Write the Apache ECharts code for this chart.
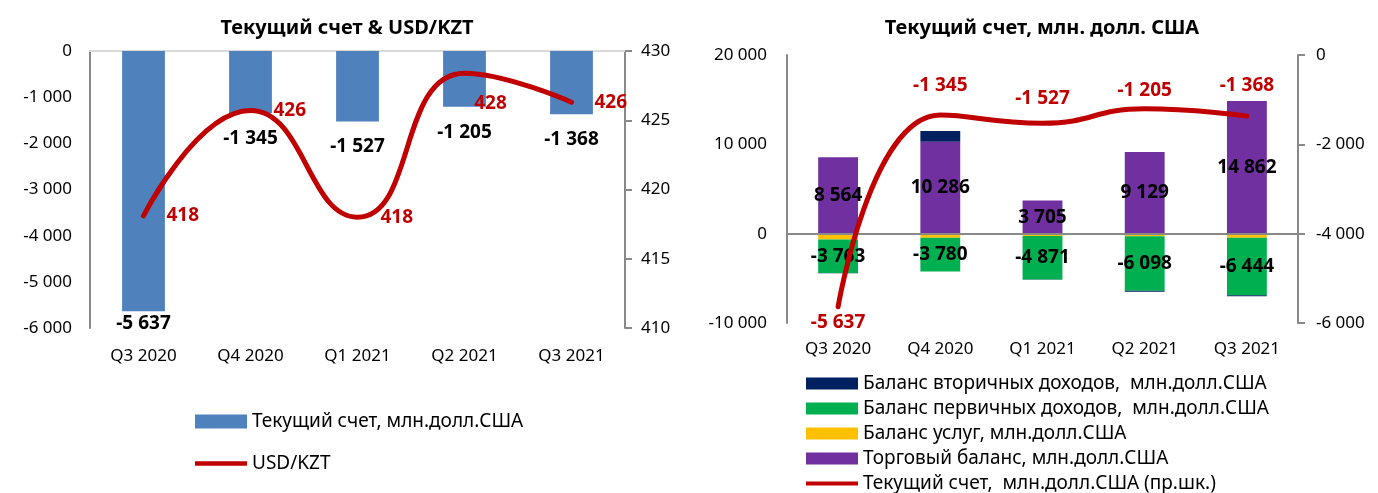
<!DOCTYPE html>
<html>
<head>
<meta charset="utf-8">
<script src="https://cdn.jsdelivr.net/npm/echarts@6/dist/echarts.min.js"></script>
<style>
  html, body { margin: 0; padding: 0; background: #fff; }
  #chart { width: 1378px; height: 493px; }
</style>
</head>
<body>
<div id="chart"></div>
<script>
// данные
var quarters = ['Q3 2020', 'Q4 2020', 'Q1 2021', 'Q2 2021', 'Q3 2021'];
var currentAccount = [-5637, -1345, -1527, -1205, -1368];
var usdKzt = [418.1, 425.7, 418.0, 428.4, 426.3];
var tradeBalance = [8564, 10286, 3705, 9129, 14862];
var servicesBalance = [-650, -450, -250, -300, -450];
var primaryIncome = [-3763, -3780, -4871, -6098, -6444];
var secondaryIncome = [-30, 1200, -30, -100, -100];

var FONT = '"Noto Sans", sans-serif';
var GRAY = '#898989';
var RED = '#C00000';
// иконка легенды для линии: толстая полоса посередине
var LINE_ICON = 'path://M0,0L0.01,0L0,0.01Z M0,5L52,5L52,10L0,10Z M0,15L0.01,15L0,14.99Z';

function fmt(v) {
  var s = Math.abs(Math.round(v)).toString().replace(/\B(?=(\d{3})+(?!\d))/g, ' ');
  return (v < 0 ? '-' : '') + s;
}

var labelBold = { fontFamily: FONT, fontSize: 19, fontWeight: 'bold', color: '#000' };
var axisText = { fontFamily: FONT, fontSize: 17, color: '#000' };
var legendText = { fontFamily: FONT, fontSize: 19, color: '#000', lineHeight: 19 };

// подписи столбцов левого графика
var caBars = currentAccount.map(function (v, i) {
  return { value: v, label: { distance: i === 0 ? 3 : 16 } };
});
// подписи курса: справа, у Q2 2021 - под линией
var kztData = usdKzt.map(function (v, i) {
  if (i === 3) return { value: v, label: { position: 'bottom', offset: [26, -2] } };
  return v;
});
// подписи текущего счёта (правый график): сверху, первая - снизу
var caData = currentAccount.map(function (v, i) {
  var d = { 1: 19, 2: 14, 3: 8, 4: 20 };
  if (i === 0) return { value: v, label: { position: 'bottom', distance: 5 } };
  return { value: v, label: { distance: d[i] } };
});

var chart = echarts.init(document.getElementById('chart'), null, { renderer: 'canvas' });

chart.setOption({
  animation: false,
  backgroundColor: '#fff',
  textStyle: { fontFamily: FONT },
  title: [
    { text: 'Текущий счет & USD/KZT', left: 342, top: 13, textAlign: 'center',
      textStyle: { fontFamily: FONT, fontSize: 20, fontWeight: 'bold', color: '#000' } },
    { text: 'Текущий счет, млн. долл. США', left: 1037, top: 13, textAlign: 'center',
      textStyle: { fontFamily: FONT, fontSize: 20, fontWeight: 'bold', color: '#000' } }
  ],
  legend: [
    {
      data: [{ name: 'Текущий счет, млн.долл.США', icon: 'rect' },
             { name: 'USD/KZT', icon: LINE_ICON }],
      orient: 'vertical', left: 195, top: 412, padding: 0,
      itemWidth: 52, itemHeight: 14, itemGap: 23, symbolKeepAspect: false,
      textStyle: legendText
    },
    {
      data: [{ name: 'Баланс вторичных доходов,  млн.долл.США', icon: 'rect' },
             { name: 'Баланс первичных доходов,  млн.долл.США', icon: 'rect' },
             { name: 'Баланс услуг, млн.долл.США', icon: 'rect' },
             { name: 'Торговый баланс, млн.долл.США', icon: 'rect' },
             { name: 'Текущий счет,  млн.долл.США (пр.шк.)', icon: LINE_ICON }],
      orient: 'vertical', left: 806, top: 374, padding: 0,
      itemWidth: 52, itemHeight: 12, itemGap: 6, symbolKeepAspect: false,
      textStyle: legendText
    }
  ],
  grid: [
    { left: 90, right: 753, top: 51, bottom: 165 },
    { left: 787, right: 80, top: 55, bottom: 170 }
  ],
  xAxis: [
    { type: 'category', gridIndex: 0, data: quarters, position: 'bottom',
      axisLine: { show: false, onZero: false }, axisTick: { show: false },
      axisLabel: Object.assign({ margin: 20 }, axisText) },
    { type: 'category', gridIndex: 0, data: quarters, position: 'top',
      axisLine: { show: true, onZero: false, lineStyle: { color: '#D9D9D9', width: 2 } },
      axisTick: { show: false }, axisLabel: { show: false } },
    { type: 'category', gridIndex: 1, data: quarters, position: 'bottom',
      axisLine: { show: false, onZero: false }, axisTick: { show: false },
      axisLabel: Object.assign({ margin: 18 }, axisText) }
  ],
  yAxis: [
    { type: 'value', gridIndex: 0, min: -6000, max: 0, interval: 1000,
      axisLine: { show: true, lineStyle: { color: GRAY, width: 2 } }, axisTick: { show: false },
      splitLine: { show: false },
      axisLabel: Object.assign({ margin: 18, formatter: fmt }, axisText) },
    { type: 'value', gridIndex: 0, position: 'right', min: 410, max: 430, interval: 5,
      axisLine: { show: true, lineStyle: { color: GRAY, width: 2 } },
      axisTick: { show: true, length: 7, lineStyle: { color: GRAY, width: 2 } },
      splitLine: { show: false },
      axisLabel: Object.assign({ margin: 16 }, axisText) },
    { type: 'value', gridIndex: 1, min: -10000, max: 20000, interval: 10000,
      axisLine: { show: true, lineStyle: { color: GRAY, width: 2 } }, axisTick: { show: false },
      splitLine: { show: false },
      axisLabel: Object.assign({ margin: 20, formatter: fmt }, axisText) },
    { type: 'value', gridIndex: 1, position: 'right', min: -6000, max: 0, interval: 2000,
      axisLine: { show: true, lineStyle: { color: GRAY, width: 2 } },
      axisTick: { show: true, length: 7, lineStyle: { color: GRAY, width: 2 } },
      splitLine: { show: false },
      axisLabel: Object.assign({ margin: 18, formatter: fmt }, axisText) }
  ],
  series: [
    // левый график
    { name: 'Текущий счет, млн.долл.США', type: 'bar', xAxisIndex: 0, yAxisIndex: 0,
      data: caBars, barWidth: '40%', itemStyle: { color: '#4F81BD' },
      label: Object.assign({ show: true, position: 'bottom',
        formatter: function (p) { return fmt(p.value); } }, labelBold) },
    { name: 'USD/KZT', type: 'line', xAxisIndex: 0, yAxisIndex: 1,
      data: kztData, smooth: 0.5, symbol: 'circle', symbolSize: 2, showSymbol: true,
      lineStyle: { color: RED, width: 5, cap: 'round' }, itemStyle: { color: RED },
      label: Object.assign({}, labelBold, { show: true, position: 'right', distance: 22, color: RED,
        formatter: function (p) { return fmt(p.value); } }),
      z: 5 },
    // правый график
    { name: 'Торговый баланс, млн.долл.США', type: 'bar', xAxisIndex: 2, yAxisIndex: 2,
      stack: 'ca', data: tradeBalance, barWidth: '39%', itemStyle: { color: '#7030A0' },
      label: Object.assign({ show: true, position: 'inside',
        formatter: function (p) { return fmt(p.value); } }, labelBold),
      markLine: { silent: true, symbol: 'none', label: { show: false },
        lineStyle: { color: GRAY, width: 2, type: 'solid' }, data: [{ yAxis: 0 }] } },
    { name: 'Баланс услуг, млн.долл.США', type: 'bar', xAxisIndex: 2, yAxisIndex: 2,
      stack: 'ca', data: servicesBalance, itemStyle: { color: '#FFC000' } },
    { name: 'Баланс первичных доходов,  млн.долл.США', type: 'bar', xAxisIndex: 2, yAxisIndex: 2,
      stack: 'ca', data: primaryIncome, itemStyle: { color: '#00B050' },
      label: Object.assign({ show: true, position: 'inside',
        formatter: function (p) { return fmt(p.value); } }, labelBold) },
    { name: 'Баланс вторичных доходов,  млн.долл.США', type: 'bar', xAxisIndex: 2, yAxisIndex: 2,
      stack: 'ca', data: secondaryIncome, itemStyle: { color: '#002060' } },
    { name: 'Текущий счет,  млн.долл.США (пр.шк.)', type: 'line', xAxisIndex: 2, yAxisIndex: 3,
      data: caData, smooth: 0.5, symbol: 'circle', symbolSize: 2, showSymbol: true,
      lineStyle: { color: RED, width: 5, cap: 'round' }, itemStyle: { color: RED },
      label: Object.assign({}, labelBold, { show: true, position: 'top', color: RED,
        formatter: function (p) { return fmt(p.value); } }),
      z: 5 }
  ]
});
</script>
</body>
</html>
